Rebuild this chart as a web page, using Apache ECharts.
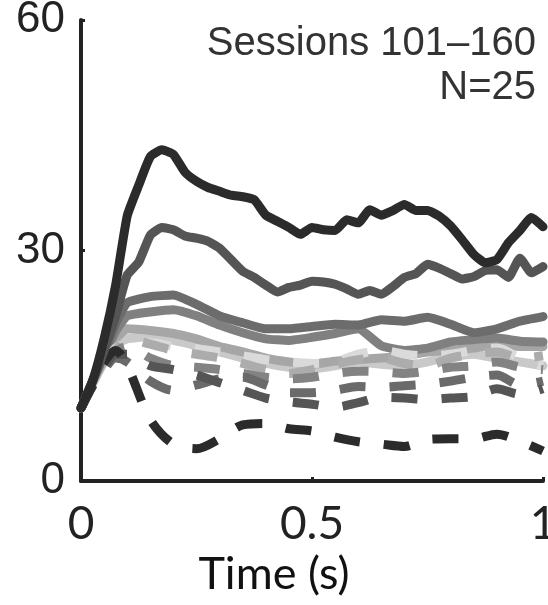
<!DOCTYPE html>
<html>
<head>
<meta charset="utf-8">
<script src="https://cdn.jsdelivr.net/npm/echarts@6/dist/echarts.min.js"></script>
<style>
  html, body { margin: 0; padding: 0; background: #fff; }
  #chart { width: 548px; height: 605px; }
</style>
</head>
<body>
<div id="chart"></div>
<script>
// time axis (s): fine grid for the two top curves, coarse grid for the rest
const tFine = []
for (let i = 0; i <= 40; i++) tFine.push(+(i * 0.025).toFixed(3))
const tCoarse = [0, 0.025, 0.05, 0.075, 0.1, 0.15, 0.2, 0.25, 0.3, 0.35, 0.4, 0.45, 0.5, 0.55, 0.6, 0.65, 0.7, 0.75, 0.8, 0.85, 0.9, 0.95, 1.0]

// solid curves
const solid1 = [9.5, 13, 18.5, 25.5, 34.5, 38.5, 42.2, 43.1, 42.5, 40.2, 39, 38.2, 37.7, 37.2, 37, 36.6, 34.6, 33.8, 33, 32.1, 33, 32.7, 32.6, 34, 33.6, 35.3, 34.6, 35.2, 36, 35.2, 35.2, 34.5, 33.2, 31.4, 29.5, 28.4, 28.8, 31, 32.6, 34.3, 33.1]
const solid2 = [9.5, 13, 17, 21.5, 26.8, 28.5, 32, 33, 32.7, 31.9, 31.6, 31.2, 30.3, 28.8, 27.3, 26.5, 25.5, 24.6, 25.2, 25.5, 26, 25.9, 25.6, 25, 24.3, 24.8, 24.3, 25.3, 26.5, 27, 28.2, 27.7, 27, 26.3, 26.6, 27.4, 27.5, 26.5, 29, 27.1, 27.9]
const solid3 = [9.5, 13, 16.5, 20.5, 23.2, 24, 24.2, 23, 21.5, 20.6, 19.8, 19.8, 20.1, 20.4, 20.3, 21, 20.8, 21.3, 20.4, 19.3, 19.8, 20.8, 21.4]
const solid4 = [9.5, 13, 16.3, 19.5, 21.5, 22, 22.3, 21.5, 20.3, 19.3, 18.5, 18.3, 18.7, 19.2, 19.8, 17.6, 17, 17.3, 18.1, 18.4, 18.6, 18.2, 18.1]
const solid5 = [9.5, 12.8, 15.8, 18.5, 19.8, 19.6, 19.2, 18.5, 17.5, 16.8, 16, 15.5, 15.2, 15.6, 15.8, 16, 16.3, 16.8, 17, 17.3, 17.8, 17.5, 17.5]
const solid6 = [9.5, 12.6, 15.5, 17.8, 18.5, 18.8, 18.3, 17.6, 16.8, 16, 15.3, 14.8, 14.6, 15, 15.5, 15.2, 15, 15.5, 16.2, 16.5, 16, 15.5, 15]

// dashed curves
const dash1 = [9.5, 12.5, 15.3, 17.3, 18, 18, 17.5, 17.2, 16.8, 16.3, 15.8, 15.5, 15.3, 15.5, 16.5, 17, 16.5, 16.3, 16.5, 17, 17.3, 16, 15]
const dash2 = [9.5, 12.5, 15, 17, 18.5, 17.8, 17, 16.5, 16, 15.3, 14.5, 14, 14.5, 15.2, 15.8, 16, 15.3, 15, 16, 16.5, 16.8, 16, 16.3]
const dash3 = [9.5, 12.5, 14.8, 16.8, 17.5, 16, 15, 14.8, 14.5, 14, 13.5, 13.3, 13.5, 14, 14.3, 14.2, 14, 14.3, 14.8, 15, 15.5, 14.8, 14.5]
const dash4 = [9.5, 12.5, 14.8, 16.5, 16.5, 15, 14.5, 13.8, 12.8, 11.8, 10.8, 10.3, 10, 9.6, 10.2, 10.9, 10.8, 10.6, 10.8, 11, 12, 11.3, 12]
const dash5 = [9.5, 12.3, 14.5, 16, 15.5, 13, 11.8, 12.5, 13.3, 13.5, 12.5, 11.5, 11.5, 11.8, 12.3, 12.2, 12.4, 12.6, 13, 13.5, 13.8, 12.5, 13]
const dash6 = [9.5, 12.5, 15.5, 17, 15, 8, 4.8, 4.2, 5.5, 7.3, 7.5, 6.8, 6.5, 5.7, 5.1, 4.8, 4.5, 5.4, 5.5, 5.5, 6.1, 5.2, 3.9]

const yTicks = [0, 30, 60]
const xTicks = [0, 0.5, 1]

function zip (ts, vs) {
  return ts.map((t, i) => [t, vs[i]])
}

function line (ts, vs, color, dashed) {
  return {
    type: 'line',
    data: zip(ts, vs),
    showSymbol: false,
    smooth: dashed ? 0.3 : 0.15,
    silent: true,
    lineStyle: {
      color: color,
      width: 9,
      type: dashed ? [26, 24] : 'solid',
      cap: dashed ? 'butt' : 'round',
      join: 'round'
    }
  }
}

const chart = echarts.init(document.getElementById('chart'))
chart.setOption({
  animation: false,
  backgroundColor: '#fff',
  grid: { left: 81, right: 5, top: 20, bottom: 124, containLabel: false, outerBoundsMode: 'none' },
  xAxis: {
    type: 'value',
    min: xTicks[0],
    max: xTicks[xTicks.length - 1],
    interval: 0.5,
    axisLine: { lineStyle: { color: '#222', width: 4 } },
    axisTick: { inside: true, length: 4, lineStyle: { color: '#222', width: 3 } },
    axisLabel: { fontFamily: 'Lato', fontSize: 46, color: '#222', margin: 20 },
    splitLine: { show: false }
  },
  yAxis: {
    type: 'value',
    min: yTicks[0],
    max: yTicks[yTicks.length - 1],
    interval: 30,
    axisLine: { show: true, lineStyle: { color: '#222', width: 4 } },
    axisTick: { show: true, inside: true, length: 4, lineStyle: { color: '#222', width: 3 } },
    axisLabel: { fontFamily: 'Liberation Sans', fontSize: 44, color: '#222', margin: 16 },
    splitLine: { show: false }
  },
  graphic: [
    {
      type: 'text',
      x: 536,
      y: 24,
      style: { text: 'Sessions 101\u2013160', font: '40px "Liberation Sans"', fill: '#333', align: 'right', verticalAlign: 'top' }
    },
    {
      type: 'text',
      x: 536,
      y: 68,
      style: { text: 'N=25', font: '40px "Liberation Sans"', fill: '#333', align: 'right', verticalAlign: 'top' }
    },
    {
      type: 'text',
      x: 274,
      y: 552,
      style: { text: 'Time (s)', font: '45px Lato', fill: '#111', align: 'center', verticalAlign: 'top' }
    }
  ],
  series: [
    line(tCoarse, solid6, '#c9c9c9', false),
    line(tCoarse, solid5, '#a6a6a6', false),
    line(tCoarse, solid4, '#808080', false),
    line(tCoarse, solid3, '#6c6c6c', false),
    line(tCoarse, dash1, '#dadada', true),
    line(tCoarse, dash2, '#acacac', true),
    line(tCoarse, dash3, '#838383', true),
    line(tCoarse, dash5, '#6a6a6a', true),
    line(tCoarse, dash4, '#555555', true),
    line(tCoarse, dash6, '#2b2b2b', true),
    line(tFine, solid2, '#555555', false),
    line(tFine, solid1, '#2b2b2b', false)
  ]
})
</script>
</body>
</html>
